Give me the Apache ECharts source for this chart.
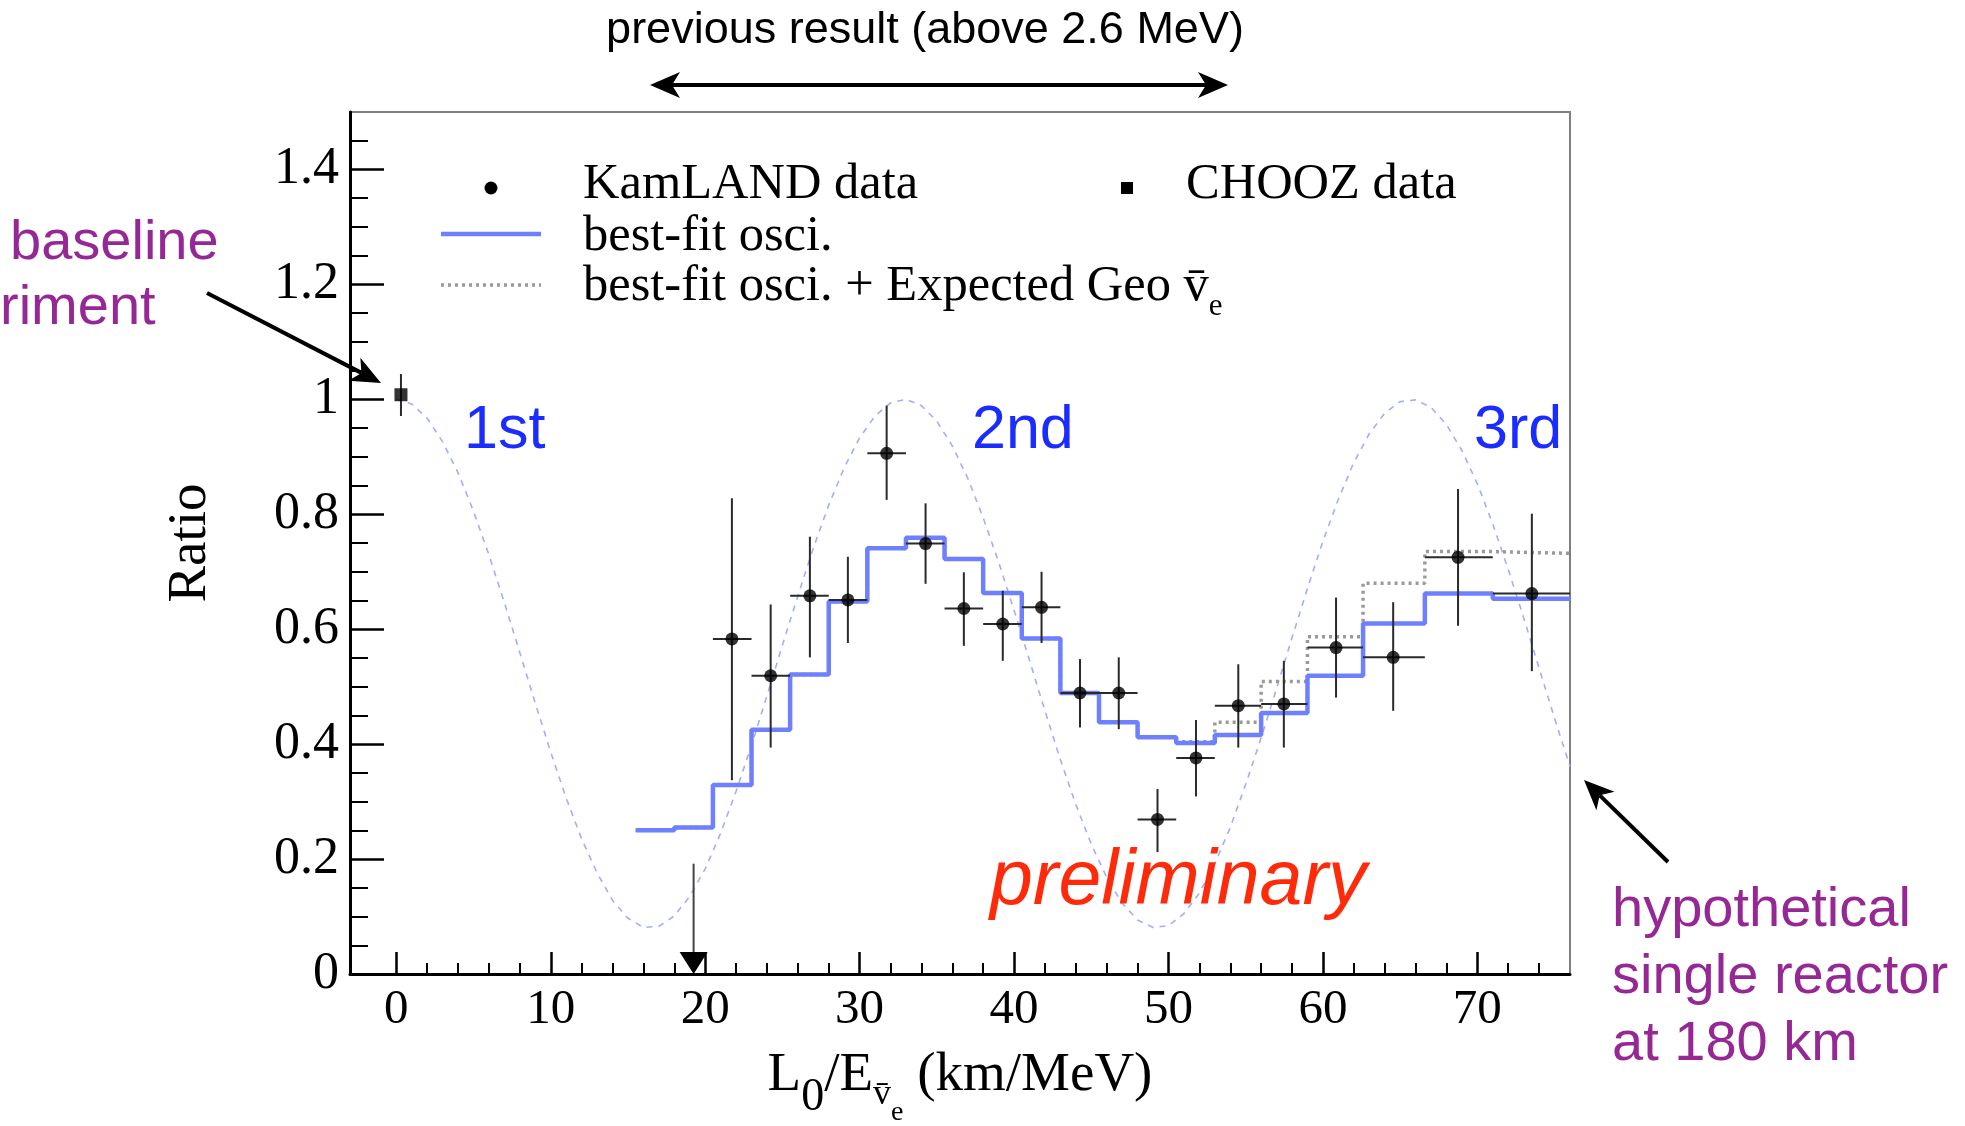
<!DOCTYPE html>
<html><head><meta charset="utf-8">
<script src="https://cdn.jsdelivr.net/npm/echarts@6/dist/echarts.min.js"></script>
<style>html,body{margin:0;padding:0;background:#fff}#c{width:1965px;height:1126px}</style>
</head><body><div id="c"></div>
<script>
// ---- axis ticks ----
const xTickValues = [0, 10, 20, 30, 40, 50, 60, 70];
const xMinorTicks = [2,4,6,8,12,14,16,18,22,24,26,28,32,34,36,38,42,44,46,48,52,54,56,58,62,64,66,68,72,74];
const yTickValues = [0, 0.2, 0.4, 0.6, 0.8, 1, 1.2, 1.4];
const yMinorTicks = [0.05,0.1,0.15,0.25,0.3,0.35,0.45,0.5,0.55,0.65,0.7,0.75,0.85,0.9,0.95,1.05,1.1,1.15,1.25,1.3,1.35,1.45];

// ---- histogram bins (L0/E, km/MeV) ----
const binEdges = [15.5, 18, 20.5, 23, 25.5, 28, 30.5, 33, 35.5, 38, 40.5, 43, 45.5, 48, 50.5, 53, 56, 59, 62.6, 66.6, 71, 76];
const fitRatio = [0.250, 0.255, 0.329, 0.425, 0.521, 0.648, 0.741, 0.759, 0.722, 0.663, 0.584, 0.489, 0.438, 0.412, 0.402, 0.416, 0.454, 0.519, 0.610, 0.662, 0.653];
const geoRatio = [0.250, 0.255, 0.329, 0.425, 0.521, 0.648, 0.741, 0.759, 0.722, 0.663, 0.584, 0.489, 0.438, 0.412, 0.404, 0.438, 0.509, 0.587, 0.680, 0.735, 0.732];

// ---- KamLAND data points ----
const kamX  = [21.73, 24.24, 26.78, 29.24, 31.75, 34.27, 36.75, 39.27, 41.78, 44.27, 46.78, 49.29, 51.78, 54.52, 57.47, 60.85, 64.55, 68.75, 73.53];
const kamY  = [0.583, 0.519, 0.658, 0.651, 0.906, 0.749, 0.636, 0.609, 0.638, 0.489, 0.489, 0.269, 0.376, 0.467, 0.470, 0.568, 0.551, 0.725, 0.662];
const kamLo = [0.337, 0.394, 0.551, 0.576, 0.825, 0.679, 0.571, 0.545, 0.576, 0.429, 0.426, 0.212, 0.309, 0.394, 0.394, 0.481, 0.458, 0.606, 0.527];
const kamHi = [0.828, 0.643, 0.761, 0.726, 0.989, 0.819, 0.699, 0.667, 0.700, 0.548, 0.551, 0.322, 0.442, 0.539, 0.545, 0.655, 0.647, 0.844, 0.801];
const kamFirstBin = 2;

// ---- upper limit bin ----
const limitX = [19.25];
const limitTop = [0.192];

// ---- CHOOZ ----
const choozX = [0.3];
const choozY = [1.008];
const choozLo = [0.971];
const choozHi = [1.044];

// ---- oscillation curve ----
const oscX = [];
for (let i = 0; i <= 76; i++) oscX.push(i);
const oscY = [1.000, 0.992, 0.967, 0.926, 0.872, 0.805, 0.729, 0.646, 0.559, 0.471,
  0.386, 0.306, 0.235, 0.176, 0.128, 0.097, 0.081, 0.083, 0.101, 0.135,
  0.183, 0.245, 0.318, 0.398, 0.484, 0.572, 0.658, 0.741, 0.816, 0.881,
  0.933, 0.971, 0.994, 1.000, 0.989, 0.962, 0.919, 0.863, 0.794, 0.717,
  0.633, 0.546, 0.458, 0.373, 0.295, 0.226, 0.168, 0.123, 0.094, 0.081,
  0.084, 0.105, 0.141, 0.192, 0.255, 0.330, 0.411, 0.497, 0.585, 0.671,
  0.753, 0.826, 0.890, 0.940, 0.976, 0.996, 0.999, 0.986, 0.956, 0.911,
  0.853, 0.783, 0.704, 0.620, 0.532, 0.445, 0.361];

const SERIF = 'Liberation Serif';
const SANS = 'Liberation Sans';
const BLUE_FIT = '#6f80ff';
const GEO_GRAY = '#9a9a9a';
const OSC = '#a3acff';

function stepData(edges, vals) {
  const d = vals.map((v, i) => [edges[i], v]);
  d.push([edges[edges.length - 1], vals[vals.length - 1]]);
  return d;
}

function arrowHead(x1, y1, x2, y2, len, half, notch) {
  const dx = x2 - x1, dy = y2 - y1, L = Math.hypot(dx, dy);
  const ux = dx / L, uy = dy / L, nx = -uy, ny = ux;
  const bx = x2 - len * ux, by = y2 - len * uy;
  const mx = x2 - notch * ux, my = y2 - notch * uy;
  return {
    poly: [[x2, y2], [bx + half * nx, by + half * ny], [mx, my], [bx - half * nx, by - half * ny]],
    end: [mx, my]
  };
}
function arrowEls(x1, y1, x2, y2, w) {
  const h = arrowHead(x1, y1, x2, y2, 30, 13, 22);
  return [
    {type: 'line', shape: {x1: x1, y1: y1, x2: h.end[0], y2: h.end[1]}, style: {stroke: '#000', lineWidth: w}},
    {type: 'polygon', shape: {points: h.poly}, style: {fill: '#000'}}
  ];
}
function doubleArrow(x1, x2, y, w) {
  const a = arrowHead(x2, y, x1, y, 30, 13, 22);
  const b = arrowHead(x1, y, x2, y, 30, 13, 22);
  return [
    {type: 'line', shape: {x1: a.end[0], y1: y, x2: b.end[0], y2: y}, style: {stroke: '#000', lineWidth: w}},
    {type: 'polygon', shape: {points: a.poly}, style: {fill: '#000'}},
    {type: 'polygon', shape: {points: b.poly}, style: {fill: '#000'}}
  ];
}

function txt(x, y, text, font, size, color, extra) {
  return {
    type: 'text', x: x, y: y, z: 100,
    style: Object.assign({text: text, fontFamily: font, fontSize: size, fill: color,
      textAlign: 'left', textVerticalAlign: 'middle', verticalAlign: 'middle'}, extra || {})
  };
}

const chart = echarts.init(document.getElementById('c'), null, {renderer: 'canvas'});

const errData = kamX.map((x, i) => [x, kamY[i], kamLo[i], kamHi[i], binEdges[i + kamFirstBin], binEdges[i + kamFirstBin + 1]]);

const option = {
  backgroundColor: '#fff',
  animation: false,
  grid: {left: 350, right: 395, top: 112, bottom: 152, show: true, borderColor: '#7f7f7f', borderWidth: 2,
    containLabel: false, outerBoundsMode: 'none'},
  xAxis: [{
    type: 'value', min: -3, max: 76,
    axisLine: {onZero: false, lineStyle: {color: '#000', width: 3}},
    axisTick: {inside: true, length: 22, lineStyle: {color: '#000', width: 2.5}, customValues: xTickValues},
    axisLabel: {customValues: xTickValues, fontFamily: SERIF, fontSize: 49, color: '#000', margin: 12},
    splitLine: {show: false},
    name: '{a|L}{b|0}{a|/E}{c|v̄}{d|e}{a| (km/MeV)}',
    nameLocation: 'middle', nameGap: 74,
    nameTextStyle: {
      fontFamily: SERIF, fontSize: 55, color: '#000',
      rich: {
        a: {fontFamily: SERIF, fontSize: 55, color: '#000', verticalAlign: 'bottom', padding: [0, 0, 30, 0]},
        b: {fontFamily: SERIF, fontSize: 46, color: '#000', verticalAlign: 'bottom', padding: [0, 0, 12, 0]},
        c: {fontFamily: SERIF, fontSize: 36, color: '#000', verticalAlign: 'bottom', padding: [0, 0, 20, 0]},
        d: {fontFamily: SERIF, fontSize: 28, color: '#000', verticalAlign: 'bottom', padding: [0, 0, 6, 0]}
      }
    }
  }, {
    type: 'value', min: -3, max: 76, position: 'bottom',
    axisLine: {show: false, onZero: false},
    axisTick: {inside: true, length: 11, lineStyle: {color: '#000', width: 2}, customValues: xMinorTicks},
    axisLabel: {show: false},
    splitLine: {show: false}
  }],
  yAxis: [{
    type: 'value', min: 0, max: 1.5,
    axisLine: {show: true, onZero: false, lineStyle: {color: '#000', width: 3}},
    axisTick: {show: true, inside: true, length: 34, lineStyle: {color: '#000', width: 2.5}, customValues: yTickValues},
    axisLabel: {customValues: yTickValues, fontFamily: SERIF, fontSize: 52, color: '#000', margin: 11},
    splitLine: {show: false},
    name: 'Ratio', nameLocation: 'middle', nameGap: 132,
    nameTextStyle: {fontFamily: SERIF, fontSize: 55, color: '#000'}
  }, {
    type: 'value', min: 0, max: 1.5, position: 'left',
    axisLine: {show: false, onZero: false},
    axisTick: {show: true, inside: true, length: 18, lineStyle: {color: '#000', width: 2}, customValues: yMinorTicks},
    axisLabel: {show: false},
    splitLine: {show: false}
  }],
  series: [
    {
      name: 'oscillation', type: 'line', xAxisIndex: 0, yAxisIndex: 0,
      data: oscX.map((x, i) => [x, oscY[i]]), showSymbol: false, symbol: 'none', smooth: false,
      lineStyle: {color: OSC, width: 1.6, type: [6, 6]}, z: 1
    },
    {
      name: 'best-fit osci. + Expected Geo', type: 'line', step: 'end', xAxisIndex: 0, yAxisIndex: 0,
      data: stepData(binEdges, geoRatio), symbol: 'none',
      lineStyle: {color: GEO_GRAY, width: 3.5, type: [3, 4]}, z: 2
    },
    {
      name: 'best-fit osci.', type: 'line', step: 'end', xAxisIndex: 0, yAxisIndex: 0,
      data: stepData(binEdges, fitRatio), symbol: 'none',
      lineStyle: {color: BLUE_FIT, width: 4.5}, z: 3
    },
    {
      name: 'KamLAND errors', type: 'custom', xAxisIndex: 0, yAxisIndex: 0,
      data: errData, encode: {x: 0, y: 1}, z: 4,
      renderItem: function (params, api) {
        const x = api.value(0), y = api.value(1);
        const a = api.coord([x, api.value(2)]), b = api.coord([x, api.value(3)]);
        const l = api.coord([api.value(4), y]), r = api.coord([api.value(5), y]);
        return {type: 'group', children: [
          {type: 'line', shape: {x1: a[0], y1: a[1], x2: b[0], y2: b[1]}, style: {stroke: '#2a2a2a', lineWidth: 2}},
          {type: 'line', shape: {x1: l[0], y1: l[1], x2: r[0], y2: r[1]}, style: {stroke: '#2a2a2a', lineWidth: 2}}
        ]};
      }
    },
    {
      name: 'KamLAND data', type: 'scatter', xAxisIndex: 0, yAxisIndex: 0,
      data: kamX.map((x, i) => [x, kamY[i]]), symbol: 'circle', symbolSize: 13,
      itemStyle: {color: '#000'}, z: 5
    },
    {
      name: 'upper limit', type: 'custom', xAxisIndex: 0, yAxisIndex: 0,
      data: limitX.map((x, i) => [x, limitTop[i]]), encode: {x: 0, y: 1}, z: 5,
      renderItem: function (params, api) {
        const x = api.value(0);
        const top = api.coord([x, api.value(1)]);
        const tip = api.coord([x, 0]);
        return {type: 'group', children: [
          {type: 'line', shape: {x1: top[0], y1: top[1], x2: tip[0], y2: tip[1] - 20}, style: {stroke: '#444', lineWidth: 2}},
          {type: 'polygon', shape: {points: [[tip[0], tip[1]], [tip[0] - 14, tip[1] - 22], [tip[0] + 14, tip[1] - 22]]}, style: {fill: '#000'}}
        ]};
      }
    },
    {
      name: 'CHOOZ errors', type: 'custom', xAxisIndex: 0, yAxisIndex: 0,
      data: choozX.map((x, i) => [x, choozY[i], choozLo[i], choozHi[i]]), encode: {x: 0, y: 1}, z: 4,
      renderItem: function (params, api) {
        const x = api.value(0);
        const a = api.coord([x, api.value(2)]), b = api.coord([x, api.value(3)]);
        return {type: 'line', shape: {x1: a[0], y1: a[1], x2: b[0], y2: b[1]}, style: {stroke: '#2a2a2a', lineWidth: 2}};
      }
    },
    {
      name: 'CHOOZ data', type: 'scatter', xAxisIndex: 0, yAxisIndex: 0,
      data: choozX.map((x, i) => [x, choozY[i]]), symbol: 'rect', symbolSize: 13,
      itemStyle: {color: '#000'}, z: 5
    }
  ],
  graphic: [].concat(
    [
      txt(925, 31, 'previous result (above 2.6 MeV)', SANS, 45, '#000', {textAlign: 'center'}),
      // legend
      {type: 'circle', shape: {cx: 491, cy: 188, r: 6.5}, style: {fill: '#000'}, z: 100},
      {type: 'line', shape: {x1: 441, y1: 234, x2: 541, y2: 234}, style: {stroke: BLUE_FIT, lineWidth: 4.5}, z: 100},
      {type: 'line', shape: {x1: 441, y1: 285, x2: 541, y2: 285}, style: {stroke: GEO_GRAY, lineWidth: 3.5, lineDash: [3, 4]}, z: 100},
      {type: 'rect', shape: {x: 1121, y: 182, width: 12, height: 12}, style: {fill: '#000'}, z: 100},
      txt(583, 185, 'KamLAND data', SERIF, 50.5, '#000'),
      txt(1186, 185, 'CHOOZ data', SERIF, 50.5, '#000'),
      txt(583, 237, 'best-fit osci.', SERIF, 50.5, '#000'),
      {
        type: 'text', x: 583, y: 292, z: 100,
        style: {
          text: '{n|best-fit osci. + Expected Geo v̄}{s|e}', fontFamily: SERIF, fontSize: 50.5, fill: '#000',
          textVerticalAlign: 'middle', verticalAlign: 'middle',
          rich: {
            n: {fontFamily: SERIF, fontSize: 50.5, fill: '#000', verticalAlign: 'bottom', padding: [0, 0, 10, 0]},
            s: {fontFamily: SERIF, fontSize: 31, fill: '#000', verticalAlign: 'bottom'}
          }
        }
      },
      // ordinal labels
      txt(464, 431, '1st', SANS, 61, '#1a2cff'),
      txt(972, 431, '2nd', SANS, 61, '#1a2cff'),
      txt(1474, 431, '3rd', SANS, 61, '#1a2cff'),
      txt(990, 883, 'preliminary', SANS, 77, '#ff2a0a', {fontStyle: 'italic'}),
      // purple annotations
      txt(10, 244, 'baseline', SANS, 56, '#962896'),
      txt(0, 309, 'riment', SANS, 56, '#962896'),
      txt(1612, 911, 'hypothetical', SANS, 56, '#962896'),
      txt(1612, 978, 'single reactor', SANS, 56, '#962896'),
      txt(1612, 1045, 'at 180 km', SANS, 56, '#962896')
    ],
    doubleArrow(650, 1228, 85, 4),
    arrowEls(207, 293, 381, 383, 4),
    arrowEls(1668, 862, 1584, 780, 4)
  )
};
chart.setOption(option);
</script>
</body></html>
